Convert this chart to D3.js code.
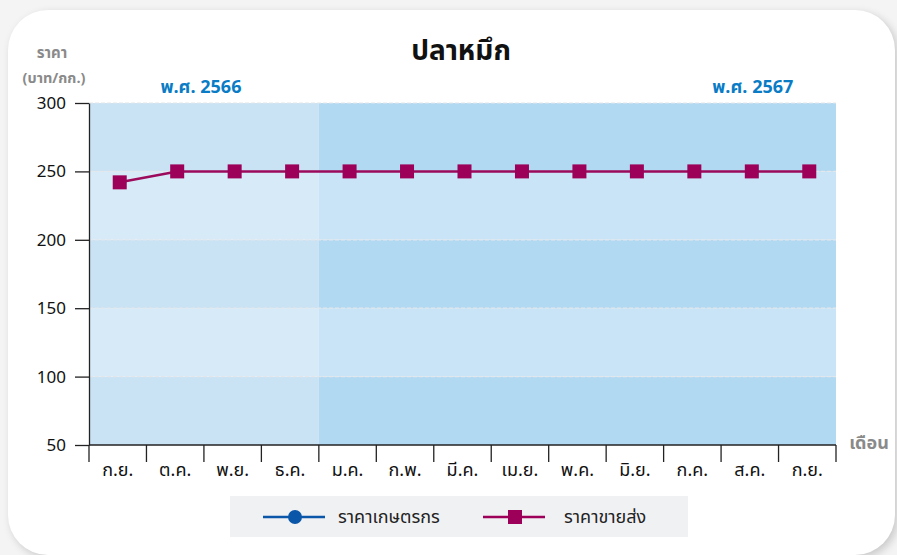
<!DOCTYPE html>
<html lang="th">
<head>
<meta charset="UTF-8">
<title>ปลาหมึก</title>
<style>
  html, body { margin: 0; padding: 0; background: #f4f4f4; }
  body { width: 897px; height: 555px; overflow: hidden; font-family: "Noto Sans Thai", "Noto Sans", "DejaVu Sans", sans-serif; }
  #card {
    position: absolute; left: 8px; top: 10px; width: 887px; height: 545px;
    background: #fff; border-radius: 40px;
    box-shadow: 3px 3px 8px rgba(0,0,0,0.18);
  }
  #chart { position: absolute; left: 0; top: 0; }
</style>
</head>
<body>
<div id="card"></div>
<div id="chart"></div>
<script src="https://d3js.org/d3.v7.min.js"></script>
<script>
// months (ก.ย. 2566 -> ก.ย. 2567)
const months = ["ก.ย.", "ต.ค.", "พ.ย.", "ธ.ค.", "ม.ค.", "ก.พ.", "มี.ค.", "เม.ย.", "พ.ค.", "มิ.ย.", "ก.ค.", "ส.ค.", "ก.ย."];
const farmerPrice = [null, null, null, null, null, null, null, null, null, null, null, null, null];
const wholesalePrice = [242, 250, 250, 250, 250, 250, 250, 250, 250, 250, 250, 250, 250];
const yTicks = [50, 100, 150, 200, 250, 300];
const years = [{ label: "พ.ศ. 2566", from: 0, to: 4 }, { label: "พ.ศ. 2567", from: 4, to: 13 }];
const seriesNames = ["ราคาเกษตรกร", "ราคาขายส่ง"];

const W = 897, H = 555;
const margin = { top: 103, right: 61, bottom: 110, left: 89 };
const width = W - margin.left - margin.right;
const height = H - margin.top - margin.bottom;

const svg = d3.select("#chart").append("svg")
    .attr("width", W)
    .attr("height", H);

const g = svg.append("g")
    .attr("transform", `translate(${margin.left},${margin.top})`);

const x = d3.scaleBand()
    .domain(d3.range(months.length))
    .range([0, width])
    .padding(0);

const y = d3.scaleLinear()
    .domain([50, 300])
    .range([height, 0]);

// background stripes, lighter for the first year
const bandColors = {
    0: ["#c9e3f5", "#d7eaf8"],
    1: ["#b2d9f2", "#c9e4f6"]
};
years.forEach((yr, i) => {
    for (let k = 0; k < yTicks.length - 1; k++) {
        const lo = yTicks[k], hi = yTicks[k + 1];
        g.append("rect")
            .attr("x", x(yr.from))
            .attr("width", x(yr.to - 1) + x.bandwidth() - x(yr.from))
            .attr("y", y(hi))
            .attr("height", y(lo) - y(hi))
            .attr("fill", bandColors[i][k % 2]);
    }
});

// dashed grid lines
g.selectAll(".grid")
    .data(yTicks.slice(1))
    .enter()
    .append("line")
    .attr("x1", 0)
    .attr("x2", width)
    .attr("y1", d => y(d))
    .attr("y2", d => y(d))
    .attr("stroke", "#e4e6ea")
    .attr("stroke-width", 1.2)
    .attr("stroke-dasharray", "4,2");

// y axis
const yAxis = g.append("g")
    .call(d3.axisLeft(y).tickValues(yTicks).tickSize(14).tickPadding(9).tickSizeOuter(0));
yAxis.select(".domain").attr("stroke", "#222").attr("stroke-width", 1.3);
yAxis.selectAll(".tick line").attr("stroke", "#222").attr("stroke-width", 1.3);
yAxis.selectAll("text")
    .attr("fill", "#111")
    .style("font-size", "17px")
    .style("font-family", "'Noto Sans', 'DejaVu Sans', sans-serif");

// x axis: ticks at the band edges
const edges = d3.range(months.length + 1).map(i => i * x.step());
const xAxis = g.append("g").attr("transform", `translate(0,${height})`);
xAxis.append("line")
    .attr("x1", 0).attr("x2", width)
    .attr("stroke", "#222").attr("stroke-width", 1.3);
xAxis.selectAll(".edge")
    .data(edges)
    .enter()
    .append("line")
    .attr("x1", d => d).attr("x2", d => d)
    .attr("y1", 0).attr("y2", 17)
    .attr("stroke", "#222").attr("stroke-width", 1.3);
xAxis.selectAll(".mlabel")
    .data(months)
    .enter()
    .append("text")
    .attr("x", (d, i) => x(i) + x.bandwidth() / 2)
    .attr("y", 31)
    .attr("text-anchor", "middle")
    .attr("fill", "#111")
    .style("font-size", "18px")
    .text(d => d);

// line for wholesale price
const line = d3.line()
    .defined(d => d != null)
    .x((d, i) => x(i) + x.bandwidth() / 2 + 2)
    .y(d => y(d));

g.append("path")
    .datum(wholesalePrice)
    .attr("fill", "none")
    .attr("stroke", "#9c0a5c")
    .attr("stroke-width", 2.5)
    .attr("d", line);

g.selectAll(".sq")
    .data(wholesalePrice)
    .enter()
    .append("rect")
    .attr("x", (d, i) => x(i) + x.bandwidth() / 2 + 2 - 7)
    .attr("y", d => y(d) - 7)
    .attr("width", 14)
    .attr("height", 14)
    .attr("fill", "#9c0058");

// farmer price (no data this period)
g.append("path")
    .datum(farmerPrice)
    .attr("fill", "none")
    .attr("stroke", "#0a56a8")
    .attr("stroke-width", 2.5)
    .attr("d", line);

// year labels
years.forEach((yr, i) => {
    const cx = i === 0 ? x(yr.from) + x.bandwidth() * 2 - 3 : x(yr.to - 1) - x.bandwidth() / 2 + 3;
    g.append("text")
        .attr("x", cx)
        .attr("y", -10)
        .attr("text-anchor", "middle")
        .attr("fill", "#0a7cc6")
        .style("font-size", "18px")
        .style("font-weight", "bold")
        .text(yr.label);
});

// title and axis names
svg.append("text")
    .attr("x", 461).attr("y", 60)
    .attr("text-anchor", "middle")
    .attr("fill", "#111")
    .style("font-size", "28px")
    .style("font-weight", "bold")
    .text("ปลาหมึก");

svg.append("text")
    .attr("x", 52).attr("y", 58)
    .attr("text-anchor", "middle")
    .attr("fill", "#8a8a8a")
    .style("font-size", "15px")
    .style("font-weight", "bold")
    .text("ราคา");

svg.append("text")
    .attr("x", 54).attr("y", 83)
    .attr("text-anchor", "middle")
    .attr("fill", "#8a8a8a")
    .style("font-size", "14.5px")
    .style("font-weight", "bold")
    .text("(บาท/กก.)");

svg.append("text")
    .attr("x", 869).attr("y", 449)
    .attr("text-anchor", "middle")
    .attr("fill", "#8a8a8a")
    .style("font-size", "18px")
    .style("font-weight", "bold")
    .text("เดือน");

// legend
const legend = svg.append("g").attr("transform", "translate(230,496)");
legend.append("rect")
    .attr("width", 458).attr("height", 41)
    .attr("fill", "#f0f1f3");

const items = [
    { name: seriesNames[0], color: "#0a56a8", shape: "circle", x: 33, tx: 75 },
    { name: seriesNames[1], color: "#9c0058", shape: "square", x: 253, tx: 81 }
];
items.forEach(it => {
    const lg = legend.append("g").attr("transform", `translate(${it.x},21)`);
    lg.append("line")
        .attr("x1", 0).attr("x2", 62)
        .attr("stroke", it.color).attr("stroke-width", 2.5);
    if (it.shape === "circle") {
        lg.append("circle").attr("cx", 32).attr("r", 7).attr("fill", it.color);
    } else {
        lg.append("rect").attr("x", 25).attr("y", -7).attr("width", 14).attr("height", 14).attr("fill", it.color);
    }
    lg.append("text")
        .attr("x", it.tx).attr("y", 6)
        .attr("fill", "#222")
        .style("font-size", "18px")
        .text(it.name);
});
</script>
</body>
</html>
